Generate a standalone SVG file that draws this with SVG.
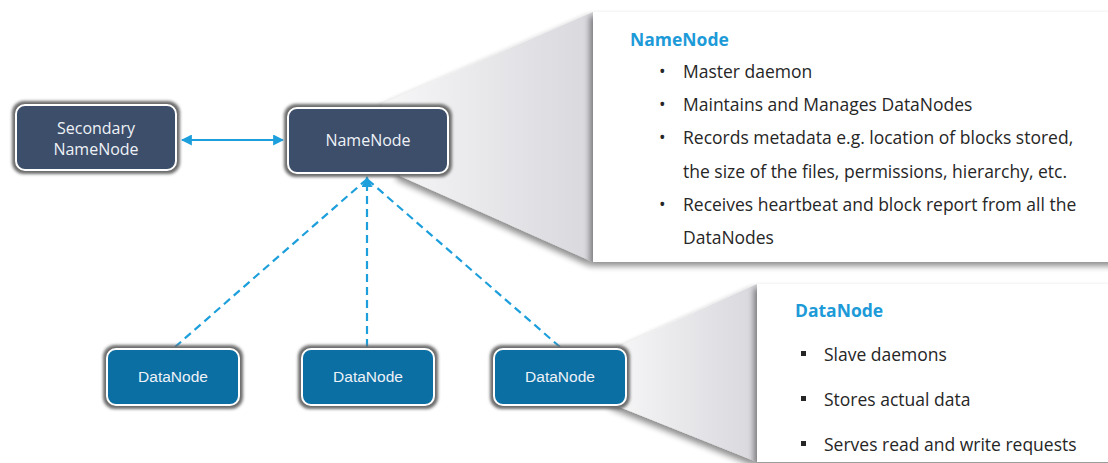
<svg xmlns="http://www.w3.org/2000/svg" width="1108" height="463" viewBox="0 0 1108 463">
<style>
.nn{fill:#3d4e6a;stroke:#ffffff;stroke-width:2}
.dn{fill:#0b6fa4;stroke:#ffffff;stroke-width:2}
.ring{fill:#6a6a6a;filter:url(#blur)}
.lbl{font-family:"Open Sans","Noto Sans",sans-serif;font-size:16px;fill:#eef2f7;text-anchor:middle}
.dlbl{font-family:"Liberation Sans",Arial,sans-serif;font-size:15.5px;fill:#eef2f7;text-anchor:middle}
.ttl{font-family:"Open Sans","Noto Sans",sans-serif;font-size:17.5px;font-weight:bold;fill:#1d9ad8}
.txt{font-family:"Open Sans","Noto Sans",sans-serif;font-size:17.5px;fill:#262626}
.conn{fill:none;stroke:#1d9fdc;stroke-width:2.2}
.dash{stroke-dasharray:8 5}
</style>
<defs>
<filter id="blur" x="-20%" y="-20%" width="140%" height="140%"><feGaussianBlur stdDeviation="1.6"/></filter>
<filter id="shadow" x="-10%" y="-10%" width="120%" height="130%"><feGaussianBlur in="SourceAlpha" stdDeviation="3"/><feOffset dx="-3" dy="4"/><feComponentTransfer><feFuncA type="linear" slope="0.45"/></feComponentTransfer><feMerge><feMergeNode/><feMergeNode in="SourceGraphic"/></feMerge></filter>
<linearGradient id="fun" x1="0" y1="0" x2="1" y2="0"><stop offset="0" stop-color="#f7f7f8"/><stop offset="1" stop-color="#d8d8dd"/></linearGradient>
<marker id="ah" viewBox="0 0 10 10" refX="9" refY="5" markerWidth="5" markerHeight="5" orient="auto-start-reverse"><path d="M0,0 L10,5 L0,10 z" fill="#1d9fdc"/></marker>
</defs>
<rect width="1108" height="463" fill="#ffffff"/>

<g id="callout-namenode">
<polygon points="382,104 593,12 593,262 400,176" fill="url(#fun)" filter="url(#shadow)"/>
<rect x="593" y="12" width="530" height="250" fill="#ffffff" filter="url(#shadow)"/>
<text class="ttl" x="630" y="46">NameNode</text>
<g class="txt">
<text x="659" y="78">•</text><text x="683" y="78">Master daemon</text>
<text x="659" y="111">•</text><text x="683" y="111">Maintains and Manages DataNodes</text>
<text x="659" y="144">•</text><text x="683" y="144">Records metadata e.g. location of blocks stored,</text>
<text x="683" y="178">the size of the files, permissions, hierarchy, etc.</text>
<text x="659" y="211">•</text><text x="683" y="211">Receives heartbeat and block report from all the</text>
<text x="683" y="244">DataNodes</text>
</g>
</g>

<g id="callout-datanode">
<polygon points="612,350 757,284 757,462 612,404" fill="url(#fun)" filter="url(#shadow)"/>
<rect x="757" y="284" width="370" height="178" fill="#ffffff" filter="url(#shadow)"/>
<text class="ttl" x="795" y="317">DataNode</text>
<g class="txt">
<rect x="801" y="351" width="5" height="5" fill="#262626"/><text x="824" y="361">Slave daemons</text>
<rect x="801" y="396" width="5" height="5" fill="#262626"/><text x="824" y="406">Stores actual data</text>
<rect x="801" y="441" width="5" height="5" fill="#262626"/><text x="824" y="451">Serves read and write requests</text>
</g>
</g>

<g id="connectors">
<line class="conn" x1="182" y1="140" x2="283" y2="140" marker-start="url(#ah)" marker-end="url(#ah)"/>
<line class="conn dash" x1="175" y1="347" x2="366" y2="180"/>
<line class="conn dash" x1="367" y1="347" x2="367" y2="180"/>
<line class="conn dash" x1="560" y1="347" x2="368" y2="180"/>
<line class="conn" x1="367" y1="184" x2="367" y2="177" marker-end="url(#ah)"/>
</g>

<g id="node-secondary">
<rect class="ring" x="12" y="101" width="168" height="73" rx="12"/>
<rect class="nn" x="16" y="105" width="160" height="65" rx="9"/>
<text class="lbl" x="96" y="134">Secondary</text>
<text class="lbl" x="96" y="155">NameNode</text>
</g>

<g id="node-namenode">
<rect class="ring" x="284" y="104" width="168" height="73" rx="12"/>
<rect class="nn" x="288" y="108" width="160" height="65" rx="9"/>
<text class="lbl" x="368" y="146">NameNode</text>
</g>

<g id="node-datanode1">
<rect class="ring" x="103" y="345" width="140" height="64" rx="12"/>
<rect class="dn" x="107" y="349" width="132" height="56" rx="9"/>
<text class="dlbl" x="173" y="382">DataNode</text>
</g>

<g id="node-datanode2">
<rect class="ring" x="298" y="345" width="140" height="64" rx="12"/>
<rect class="dn" x="302" y="349" width="132" height="56" rx="9"/>
<text class="dlbl" x="368" y="382">DataNode</text>
</g>

<g id="node-datanode3">
<rect class="ring" x="490" y="345" width="140" height="64" rx="12"/>
<rect class="dn" x="494" y="349" width="132" height="56" rx="9"/>
<text class="dlbl" x="560" y="382">DataNode</text>
</g>
</svg>
